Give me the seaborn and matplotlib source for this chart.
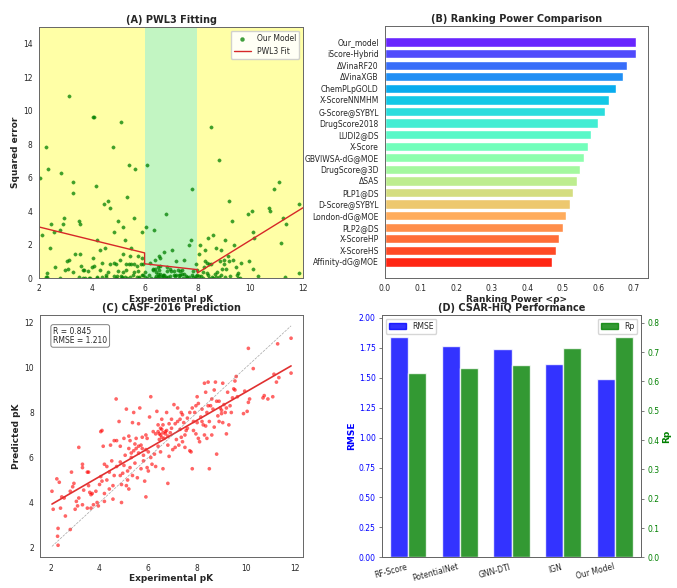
import numpy as np
import pandas as pd
import matplotlib
matplotlib.use("Agg")
import matplotlib.pyplot as plt
import seaborn as sns
from matplotlib.patches import Patch

# ---- (C) CASF-2016 predictions (experimental, predicted) ----
exp_pk = [2.05, 2.1, 2.25, 2.3, 2.28, 2.3, 2.35, 2.4, 2.45, 2.55, 2.6, 2.8, 2.8, 2.85, 2.9,
          2.95, 3.0, 3.05, 3.1, 3.15, 3.15, 3.3, 3.3, 3.3, 3.35, 3.5, 3.55, 3.5, 3.55, 3.6,
          3.65, 3.7, 3.65, 3.75, 3.85, 3.9, 3.95, 4.0, 4.05, 4.05, 4.1, 4.1, 4.15, 4.2, 4.2,
          4.3, 4.4, 4.45, 4.5, 4.55, 4.55, 4.6, 4.7, 4.68, 4.8, 4.85, 4.85, 4.9, 4.9, 4.95,
          5.0, 5.0, 5.1, 5.1, 5.15, 5.15, 5.2, 5.2, 5.25, 5.3, 5.35, 5.35, 5.4, 5.4, 5.45,
          5.5, 5.5, 5.55, 5.6, 5.6, 5.65, 5.7, 5.7, 5.75, 5.8, 5.8, 5.85, 5.9, 5.9, 5.95,
          5.95, 6.0, 6.0, 6.05, 6.1, 6.1, 6.15, 6.2, 6.25, 6.3, 6.3, 6.35, 6.4, 6.4, 6.45,
          6.5, 6.5, 6.55, 6.55, 6.6, 6.6, 6.65, 6.7, 6.7, 6.75, 6.8, 6.8, 6.85, 6.85, 6.9,
          6.95, 7.0, 7.05, 7.1, 7.1, 7.15, 7.2, 7.25, 7.3, 7.3, 7.35, 7.4, 7.45, 7.5, 7.55,
          7.6, 7.7, 7.75, 7.8, 7.8, 7.85, 7.9, 7.95, 8.0, 8.0, 8.05, 8.05, 8.1, 8.15, 8.2,
          8.25, 8.3, 8.3, 8.35, 8.4, 8.4, 8.45, 8.45, 8.5, 8.5, 8.55, 8.6, 8.65, 8.7, 8.7,
          8.75, 8.8, 8.8, 8.85, 8.9, 8.95, 9.0, 9.0, 9.05, 9.05, 9.1, 9.15, 9.2, 9.25, 9.3,
          9.35, 9.45, 9.5, 9.55, 9.55, 9.6, 9.65, 9.9, 9.95, 10.05, 10.1, 10.1, 10.15, 10.3, 10.7,
          10.75, 10.9, 11.1, 11.15, 11.25, 11.3, 11.35, 11.85, 11.85,
          6.4, 6.5, 6.6, 6.75, 6.8, 6.55, 6.95, 6.45, 5.2, 5.3, 5.45, 5.6, 5.75, 5.05, 5.25,
          5.9, 4.3, 4.6, 4.7, 4.85, 4.4, 4.2, 7.2, 7.4, 7.6, 7.7, 7.5, 7.85, 7.95, 7.35,
          8.2, 8.6, 8.9, 9.2, 9.4, 8.35]
pred_pk = [4.5, 3.7, 5.05, 2.85, 2.5, 2.1, 4.9, 3.75, 4.25, 4.2, 3.4, 2.8, 4.5, 5.35, 4.7,
           4.85, 3.7, 4.05, 3.85, 4.2, 6.45, 3.9, 5.55, 5.7, 4.55, 5.35, 5.35, 3.75, 4.75, 4.45,
           4.35, 4.4, 3.75, 3.9, 4.5, 4.0, 3.85, 4.8, 5.15, 7.15, 7.2, 4.95, 6.5, 5.7, 4.05,
           5.0, 5.35, 6.55, 5.85, 4.75, 4.15, 6.75, 6.75, 8.6, 7.6, 6.5, 5.8, 4.8, 4.0, 5.3,
           5.65, 6.85, 8.15, 4.75, 5.4, 5.0, 4.6, 6.95, 5.55, 6.2, 7.55, 5.2, 8.0, 6.3, 5.75,
           6.85, 6.4, 5.1, 6.5, 7.5, 8.2, 5.5, 6.55, 6.9, 6.1, 5.85, 4.95, 4.25, 6.35, 6.85,
           5.55, 6.25, 5.4, 7.8, 8.7, 6.0, 5.7, 7.15, 6.15, 5.6, 7.05, 8.05, 7.45, 6.5, 7.05,
           7.3, 6.25, 7.7, 6.9, 7.45, 5.5, 6.85, 7.15, 7.05, 8.0, 4.85, 6.55, 7.5, 6.05, 7.1,
           7.7, 6.35, 8.35, 7.5, 6.45, 6.8, 8.2, 6.55, 7.7, 7.25, 8.0, 6.7, 7.55, 6.45, 7.2,
           7.75, 6.3, 6.25, 8.2, 5.5, 7.6, 8.0, 7.05, 8.7, 7.55, 8.4, 6.85, 6.7, 7.8, 8.15,
           7.45, 9.3, 7.0, 8.9, 8.0, 6.85, 9.35, 8.3, 7.6, 5.5, 8.3, 7.0, 8.15, 9.0, 7.35,
           9.35, 8.5, 6.15, 7.85, 8.5, 8.2, 7.95, 8.1, 7.55, 9.3, 8.35, 8.0, 7.05, 8.9, 7.45,
           8.3, 8.65, 9.05, 9.4, 9.0, 9.6, 8.7, 7.95, 8.95, 8.05, 10.85, 8.45, 8.6, 9.95, 8.65,
           8.75, 8.6, 8.7, 9.7, 9.35, 11.05, 9.55, 11.3, 9.75,
           7.15, 7.0, 7.1, 7.2, 6.95, 7.25, 7.3, 6.8, 6.4, 6.0, 6.6, 6.2, 6.4, 6.1, 6.75,
           7.0, 5.6, 5.2, 5.6, 5.2, 4.6, 4.4, 7.6, 7.9, 7.3, 8.0, 7.0, 7.2, 8.3, 6.9,
           7.6, 8.6, 7.6, 8.2, 8.0, 7.4]

# ---- (A) piecewise-linear fit, breakpoints at pK 6 and 8 ----
pwl_x = [2, 6, 6, 8, 8, 12]
pwl_y = [3.05, 1.5, 0.85, 0.5, 0.3, 4.2]

# ---- (B) ranking power ----
rank_methods = ["Our_model", "iScore-Hybrid", "\u0394VinaRF20", "\u0394VinaXGB", "ChemPLpGOLD",
                "X-ScoreNNMHM", "G-Score@SYBYL", "DrugScore2018", "LUDI2@DS", "X-Score",
                "GBVIWSA-dG@MOE", "DrugScore@3D", "\u0394SAS", "PLP1@DS", "D-Score@SYBYL",
                "London-dG@MOE", "PLP2@DS", "X-ScoreHP", "X-ScoreHS", "Affinity-dG@MOE"]
rank_power = [0.705, 0.705, 0.68, 0.67, 0.65, 0.63, 0.62, 0.60, 0.58, 0.57,
              0.56, 0.55, 0.54, 0.53, 0.52, 0.51, 0.50, 0.49, 0.48, 0.47]

# ---- (D) CSAR-HiQ ----
csar_models = ["RF-Score", "PotentialNet", "GNN-DTI", "IGN", "Our Model"]
csar_rmse = [1.84, 1.76, 1.74, 1.615, 1.49]
csar_rp = [0.63, 0.645, 0.655, 0.713, 0.752]

TITLE = 7.0
LABEL = 6.5
TICK = 5.5
SPINE = "#666666"

exp_arr = np.array(exp_pk)
pred_arr = np.array(pred_pk)
sq_err = (pred_arr - exp_arr) ** 2

sns.set_style("white")
plt.rcParams["font.family"] = ["DejaVu Sans"]

fig = plt.figure(figsize=(6.77, 5.88), dpi=100)
axA = fig.add_axes([0.0576, 0.5272, 0.39, 0.4269])
axB = fig.add_axes([0.5687, 0.5272, 0.3885, 0.4286])
axC = fig.add_axes([0.0591, 0.052, 0.3885, 0.4126])
axD = fig.add_axes([0.5643, 0.052, 0.3826, 0.4126])


def tidy(ax):
    for s in ax.spines.values():
        s.set_color(SPINE)
        s.set_linewidth(0.7)
    ax.tick_params(labelsize=TICK, length=2.5, width=0.6, color=SPINE, pad=2)


# (A) PWL3 fitting
axA.axvspan(2, 6, color="yellow", alpha=0.35, lw=0)
axA.axvspan(6, 8, color="lightgreen", alpha=0.55, lw=0)
axA.axvspan(8, 12, color="yellow", alpha=0.35, lw=0)
sns.scatterplot(x=exp_arr, y=sq_err, ax=axA, color="green", s=6, alpha=0.75,
                edgecolor=None, label="Our Model")
sns.lineplot(x=pwl_x, y=pwl_y, ax=axA, estimator=None, sort=False, color="#d62728",
             lw=1.0, label="PWL3 Fit")
axA.set_xlim(2, 12)
axA.set_ylim(0, 15)
axA.set_yticks(range(0, 15, 2))
axA.set_title("(A) PWL3 Fitting", fontsize=TITLE, fontweight="bold", pad=3)
axA.set_xlabel("Experimental pK", fontsize=LABEL, fontweight="bold", labelpad=1)
axA.set_ylabel("Squared error", fontsize=LABEL, fontweight="bold", labelpad=2)
axA.legend(loc="upper right", fontsize=TICK, markerscale=1.2, framealpha=0.9,
           handlelength=2.2, borderpad=0.4)
tidy(axA)

# (B) ranking power
rank_df = pd.DataFrame({"method": rank_methods, "power": rank_power})
sns.barplot(data=rank_df, x="power", y="method", hue="method", legend=False, ax=axB,
            palette=sns.color_palette("rainbow", len(rank_methods)), orient="h",
            width=0.8, saturation=1)
axB.set_ylim(len(rank_methods) - 1 + 1.39, -1.39)
axB.set_xlim(0, 0.74)
axB.set_xticks(np.arange(0, 0.71, 0.1))
axB.set_title("(B) Ranking Power Comparison", fontsize=TITLE, fontweight="bold", pad=3)
axB.set_xlabel("Ranking Power <\u03c1>", fontsize=LABEL, fontweight="bold", labelpad=1)
axB.set_ylabel("")
tidy(axB)

# (C) CASF-2016 prediction
sns.regplot(x=exp_arr, y=pred_arr, ax=axC, ci=None, truncate=True, color="red",
            scatter_kws={"s": 7, "alpha": 0.6, "edgecolor": "none"},
            line_kws={"lw": 1.2, "color": "#e03030"})
lo, hi = exp_arr.min(), exp_arr.max()
axC.plot([lo, hi], [lo, hi], ls="--", color="gray", lw=0.5, alpha=0.7)
axC.text(0.05, 0.95, "R = 0.845\nRMSE = 1.210", transform=axC.transAxes, fontsize=TICK,
         va="top", ha="left", linespacing=1.0,
         bbox=dict(boxstyle="round,pad=0.3", fc="white", ec="gray", lw=0.7))
axC.set_xticks(range(2, 13, 2))
axC.set_yticks(range(2, 13, 2))
axC.set_title("(C) CASF-2016 Prediction", fontsize=TITLE, fontweight="bold", pad=3)
axC.set_xlabel("Experimental pK", fontsize=LABEL, fontweight="bold", labelpad=1)
axC.set_ylabel("Predicted pK", fontsize=LABEL, fontweight="bold", labelpad=2)
tidy(axC)

# (D) CSAR-HiQ performance, RMSE on left axis, Rp on right axis
rmse_df = pd.DataFrame({"model": csar_models, "value": csar_rmse, "metric": "RMSE"})
rp_df = pd.DataFrame({"model": csar_models, "value": csar_rp, "metric": "Rp"})
pal = {"RMSE": "blue", "Rp": "green"}
sns.barplot(data=rmse_df, x="model", y="value", hue="metric", hue_order=["RMSE", "Rp"],
            palette=pal, alpha=0.8, width=0.7, dodge=True, saturation=1, errorbar=None,
            ax=axD, legend=False)
axD2 = axD.twinx()
sns.barplot(data=rp_df, x="model", y="value", hue="metric", hue_order=["RMSE", "Rp"],
            palette=pal, alpha=0.8, width=0.7, dodge=True, saturation=1, errorbar=None,
            ax=axD2, legend=False)
axD.set_ylim(0, max(csar_rmse) * 1.1)
axD2.set_ylim(0, max(csar_rp) * 1.1)
axD.set_yticks(np.arange(0, 2.01, 0.25))
axD2.set_yticks(np.arange(0, 0.81, 0.1))
axD.set_title("(D) CSAR-HiQ Performance", fontsize=TITLE, fontweight="bold", pad=3)
axD.set_xlabel("")
axD2.set_xlabel("")
axD.set_ylabel("RMSE", fontsize=LABEL, fontweight="bold", color="blue", labelpad=2)
axD2.set_ylabel("Rp", fontsize=LABEL, fontweight="bold", color="green", labelpad=2)
tidy(axD)
tidy(axD2)
axD.tick_params(axis="y", labelcolor="blue")
axD2.tick_params(axis="y", labelcolor="green")
axD.tick_params(axis="x", pad=1)
plt.setp(axD.get_xticklabels(), rotation=15, ha="right")
axD.legend(handles=[Patch(color="blue", alpha=0.8, label="RMSE")], loc="upper left",
           fontsize=TICK, handlelength=2.2)
axD2.legend(handles=[Patch(color="green", alpha=0.8, label="Rp")], loc="upper right",
            fontsize=TICK, handlelength=2.2)

fig.savefig("out.png", dpi=100)
